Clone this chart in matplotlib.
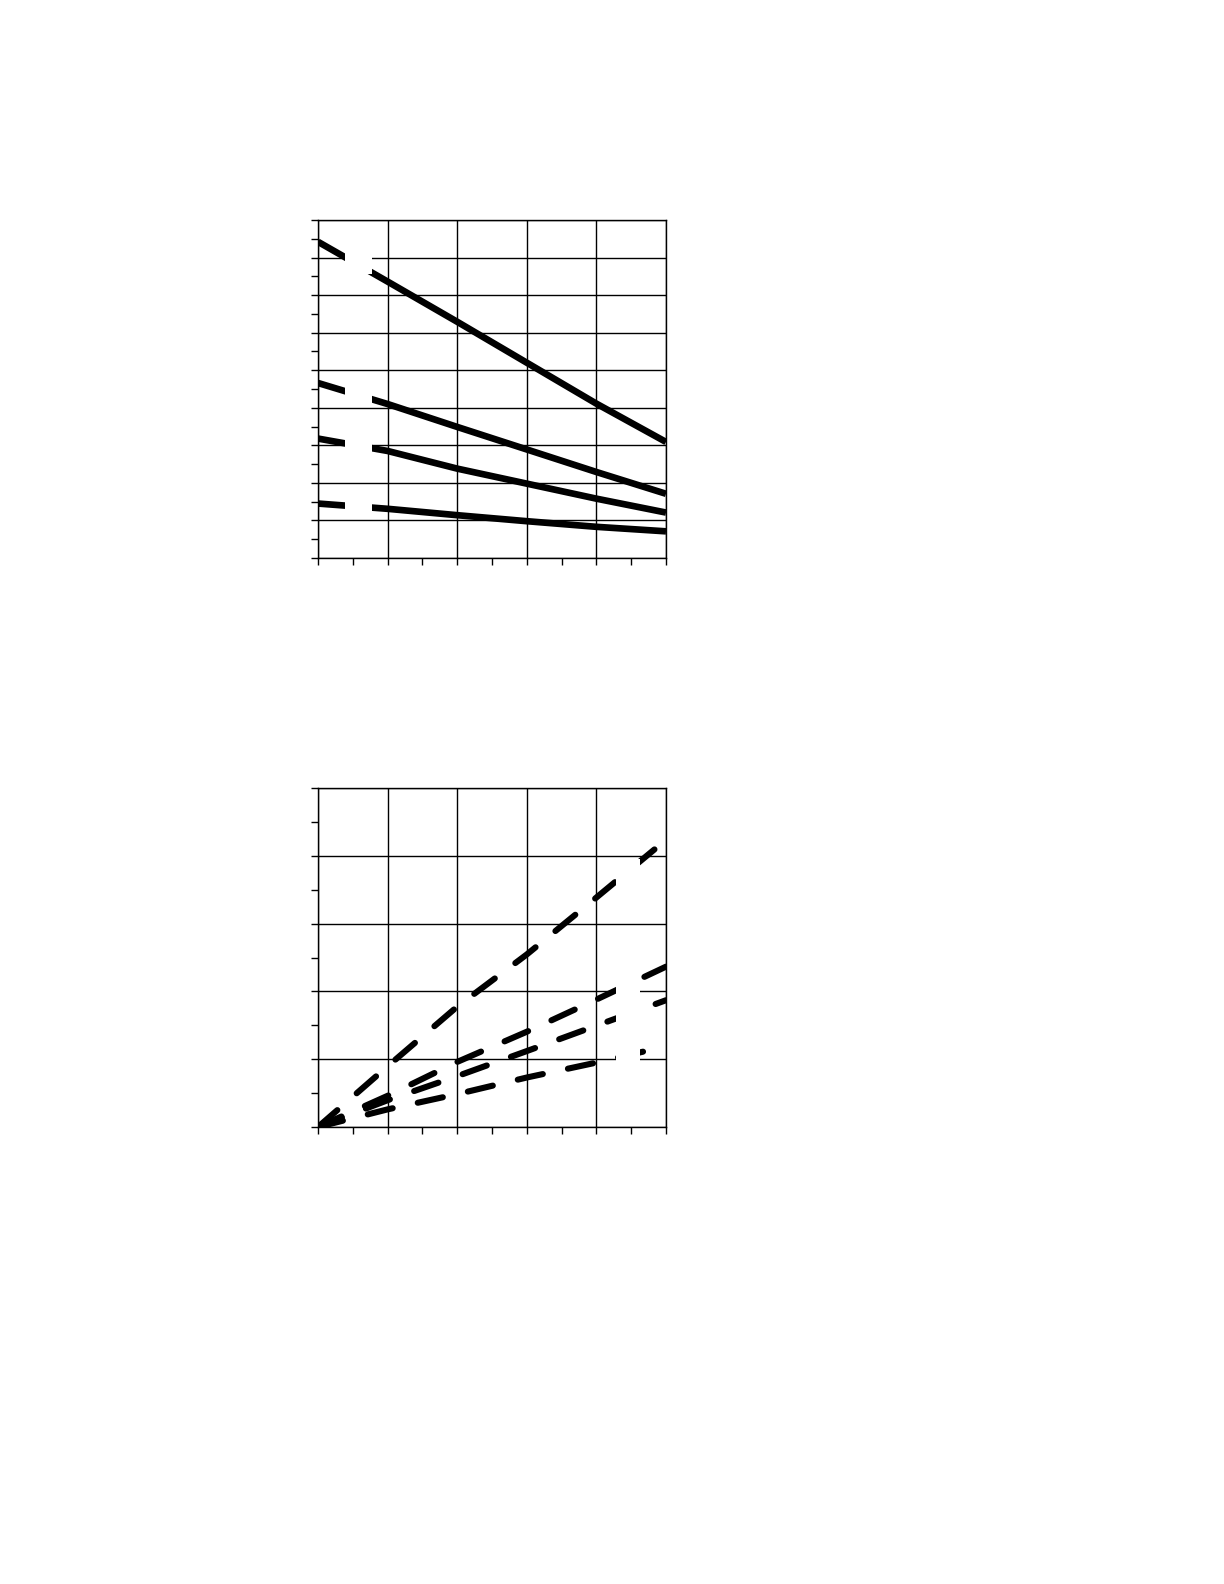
import matplotlib
matplotlib.use("Agg")
import matplotlib.pyplot as plt
from matplotlib.patches import Rectangle
from matplotlib.ticker import MultipleLocator

# ---- data (axes carry no labels) ----
x_top = [0, 2, 4, 6, 8, 10]
top_curve1 = [8.42, 7.36, 6.29, 5.20, 4.11, 3.09]
top_curve2 = [4.66, 4.10, 3.49, 2.89, 2.29, 1.71]
top_curve3 = [3.18, 2.85, 2.38, 1.98, 1.58, 1.21]
top_curve4 = [1.45, 1.31, 1.14, 0.98, 0.83, 0.71]

x_bot = [0, 2, 4, 6, 8, 10]
bot_curveA = [0.0, 1.79, 3.55, 5.09, 6.77, 8.47]
bot_curveB = [0.0, 0.92, 1.92, 2.81, 3.76, 4.73]
bot_curveC = [0.0, 0.79, 1.50, 2.24, 2.99, 3.74]
bot_curveD = [0.0, 0.52, 0.97, 1.46, 1.90, 2.38]

# blank label boxes (x-range, y-ranges)
top_box_x = (0.78, 1.55)
top_box_y = [(7.55, 8.2), (4.08, 4.6), (2.75, 3.25), (1.15, 1.6)]
bot_box_x = (8.55, 9.25)
bot_box_y = [(7.0, 7.9), (3.85, 4.55), (3.0, 3.7), (1.8, 2.4)]

W, H = 1224, 1584
fig = plt.figure(figsize=(W / 100, H / 100), dpi=100)
fig.patch.set_facecolor("white")


def style_axes(ax, ymax, ymajor, yminor):
    ax.set_xlim(0, 10)
    ax.set_ylim(0, ymax)
    ax.xaxis.set_major_locator(MultipleLocator(2))
    ax.xaxis.set_minor_locator(MultipleLocator(1))
    ax.yaxis.set_major_locator(MultipleLocator(ymajor))
    ax.yaxis.set_minor_locator(MultipleLocator(yminor))
    ax.grid(True, which="major", color="black", linewidth=1.0, zorder=0)
    ax.set_axisbelow(True)
    ax.tick_params(which="both", direction="out", length=5, width=1.0,
                   labelbottom=False, labelleft=False, top=False, right=False,
                   color="black")
    for s in ax.spines.values():
        s.set_linewidth(1.0)
        s.set_color("black")
        s.set_zorder(10)


# top panel
ax1 = fig.add_axes([318 / W, 1 - 558 / H, 348 / W, 338 / H])
style_axes(ax1, 9, 1, 0.5)
for ys in (top_curve1, top_curve2, top_curve3, top_curve4):
    ax1.plot(x_top, ys, color="black", linewidth=4.8, solid_capstyle="butt", zorder=3)
for (y0, y1) in top_box_y:
    ax1.add_patch(Rectangle((top_box_x[0], y0), top_box_x[1] - top_box_x[0], y1 - y0,
                            facecolor="white", edgecolor="none", zorder=5))

# bottom panel
ax2 = fig.add_axes([318 / W, 1 - 1127 / H, 348 / W, 339 / H])
style_axes(ax2, 10, 2, 1)
for ys in (bot_curveA, bot_curveB, bot_curveC, bot_curveD):
    ax2.plot(x_bot, ys, color="black", linewidth=4.4, linestyle=(0, (4.2, 4.2)),
             dash_capstyle="round", zorder=3)
for (y0, y1) in bot_box_y:
    ax2.add_patch(Rectangle((bot_box_x[0], y0), bot_box_x[1] - bot_box_x[0], y1 - y0,
                            facecolor="white", edgecolor="none", zorder=5))

fig.savefig("out.png", dpi=100, facecolor="white")
